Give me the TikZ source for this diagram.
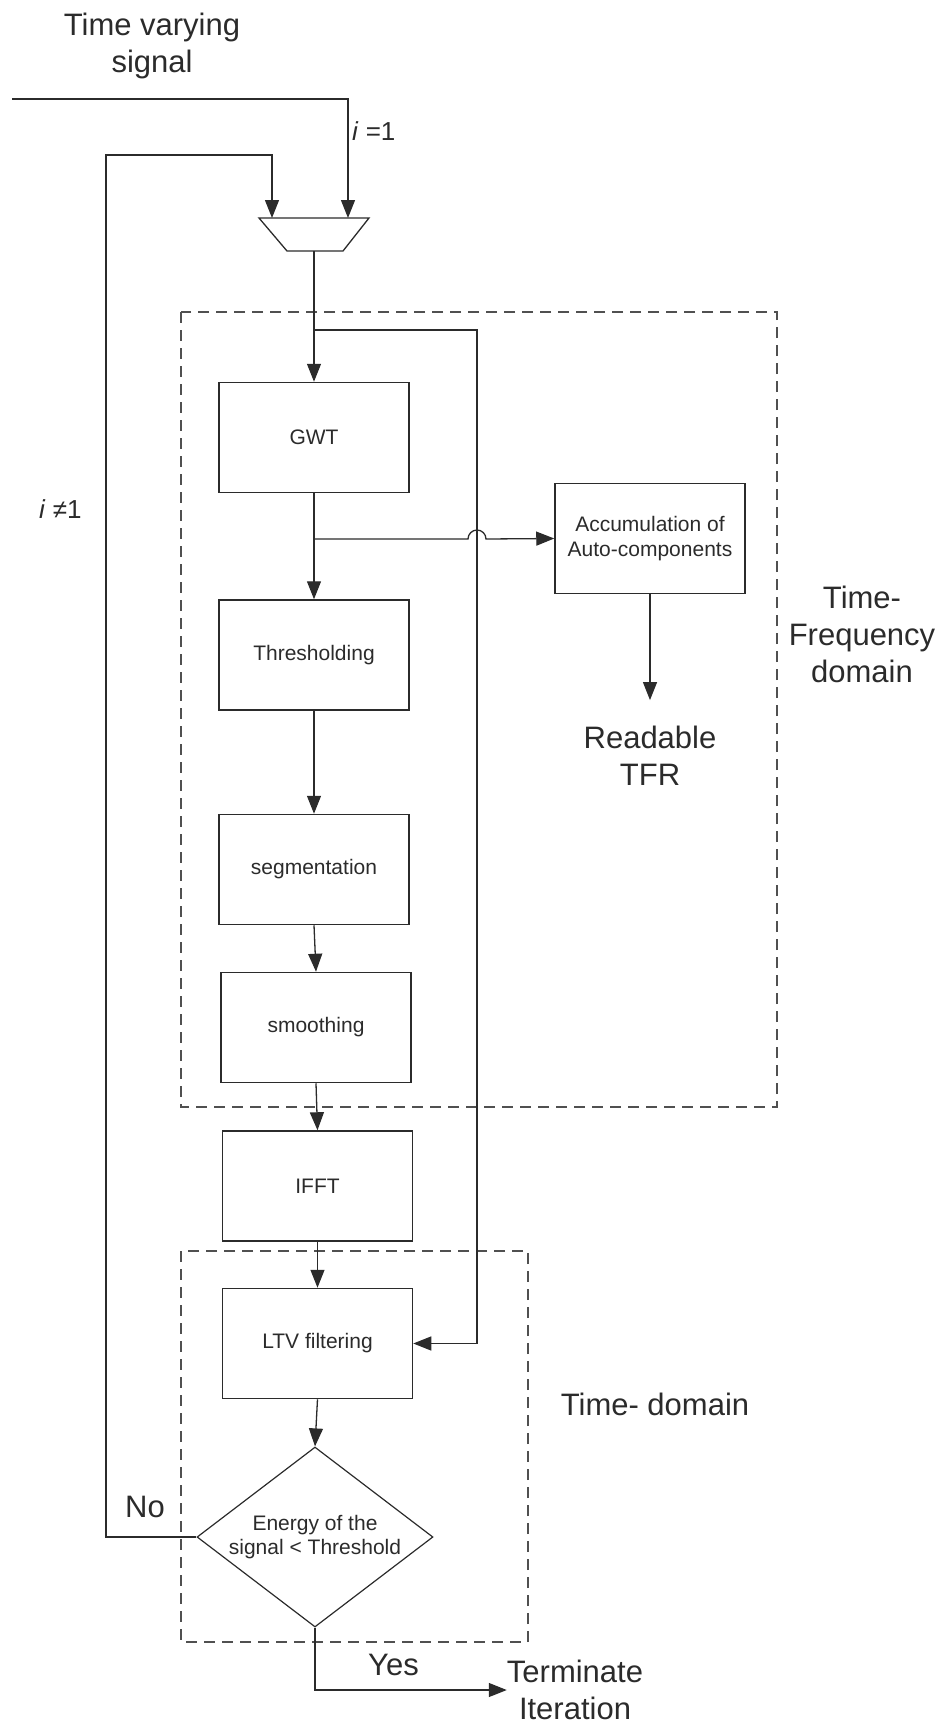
\documentclass[tikz,border=0pt]{standalone}
\usepackage{fontspec}
\setmainfont{Liberation Sans}
\usetikzlibrary{arrows.meta,positioning,shapes.geometric}
\definecolor{inkgray}{HTML}{2B2B2B}
\definecolor{dashgray}{HTML}{505050}
\tikzset{
  block/.style={draw=inkgray, line width=1.5pt, minimum width=190pt, minimum height=110pt, inner sep=0pt, align=center, text=inkgray, font=\fontsize{21}{24.5}\selectfont},
  decision/.style={diamond, draw=inkgray, line width=1.2pt, aspect=1.31, minimum width=236pt, minimum height=180pt, inner sep=0pt, align=center, text=inkgray, font=\fontsize{21}{24.5}\selectfont},
  wire/.style={draw=inkgray, line width=1.3pt},
  flow/.style={wire, -{Triangle[length=18pt,width=14pt]}},
  region/.style={draw=dashgray, line width=1.6pt, dash pattern=on 11pt off 7pt},
  bigtext/.style={inner sep=0pt, align=center, text=inkgray, font=\fontsize{31}{37}\selectfont},
  itext/.style={inner sep=0pt, text=inkgray, font=\fontsize{26}{30}\selectfont},
}

\begin{document}
\begin{tikzpicture}[x=1pt,y=-1pt]
    \useasboundingbox (0,0) rectangle (944,1729);

    % Define the blocks of the chain
    \node[block] (gwt) at (314,437.5) {GWT};
    \node[block] (thr) at (314,655) {Thresholding};
    \node[block] (seg) at (314,869.5) {segmentation};
    \node[block] (smo) at (316,1027.5) {smoothing};
    \node[block] (ifft) at (317.5,1186) {IFFT};
    \node[block] (ltv) at (317.5,1343.5) {LTV filtering};
    \node[decision] (dec) at (315,1537) {Energy of the\\signal < Threshold};
    \node[block] (acc) at (650,538.5) {Accumulation of\\Auto-components};

    % Switch at the input
    \coordinate (mux-in1) at (272,218);
    \coordinate (mux-in2) at (348,218);
    \coordinate (mux-out) at (314,251);
    \draw[wire] (259,218) -- (369,218) -- (343,251) -- (287,251) -- cycle;

    % Labels
    \node[bigtext] (title) at (152,46) {Time varying\\signal};
    \node[bigtext] (readable) at (650,756) {Readable\\TFR};
    \node[bigtext] (tfdom) at (862,634) {Time-\\Frequency\\domain};
    \node[bigtext, anchor=base] (tdom) at (655,1415) {Time- domain};
    \node[bigtext, anchor=base west] (no) at (125,1517) {No};
    \node[bigtext, anchor=base west] (yes) at (368,1675) {Yes};
    \node[bigtext] (term) at (575,1690) {Terminate\\Iteration};
    \node[itext, anchor=base west] (ione) at (352,140) {\textit{i} =1};
    \node[itext, anchor=base west] (inot) at (39,518) {\textit{i} ≠1};

    % Dashed regions
    \draw[region] (181,312) rectangle (777,1107);
    \draw[region] (181,1251) rectangle (528,1642);

    % Connectors
    \coordinate (sig-in) at (12,99);
    \coordinate (fb) at (106,155);
    \coordinate (tap1) at (314,330);
    \coordinate (ltvfeed) at (477,330);
    \coordinate (tap2) at (314,539);
    \coordinate (hop) at (477,539);
    \draw[flow] (sig-in) -| (mux-in2);
    \draw[flow] (dec.west) -| (fb) -| (mux-in1);
    \draw[flow] (mux-out) -- (gwt.north);
    \draw[flow] (tap1) -- (ltvfeed) |- (ltv.east);
    \draw[flow] (gwt.south) -- (thr.north);
    \draw[flow] (tap2) -- ([xshift=-9pt]hop) arc[start angle=180, end angle=0, radius=9pt] -- (acc.west);
    \draw[flow] (acc.south) -- ([yshift=26pt]readable.north);
    \draw[flow] (thr.south) -- (seg.north);
    \draw[flow] (seg.south) -- (smo.north);
    \draw[flow] (smo.south) -- (ifft.north);
    \draw[flow] (ifft.south) -- (ltv.north);
    \draw[flow] (ltv.south) -- (dec.north);
    \draw[flow] (dec.south) |- (term.west);
\end{tikzpicture}
\end{document}
